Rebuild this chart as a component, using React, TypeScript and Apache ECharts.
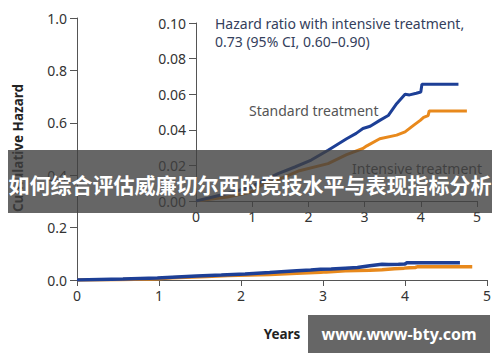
import React, { useEffect, useRef } from "react";
import * as echarts from "echarts";

// Standard treatment (years, cumulative hazard)
const standardYears = [0, 0.56, 0.98, 1.16, 1.46, 1.76, 2.05, 2.35, 2.68, 2.85, 2.97, 3.1, 3.27, 3.42, 3.57, 3.72, 3.8, 3.92, 4.0, 4.02, 4.67];
const standardHazard = [0, 0.0042, 0.0079, 0.0107, 0.0154, 0.0191, 0.023, 0.0285, 0.035, 0.038, 0.0407, 0.042, 0.0453, 0.048, 0.0547, 0.06, 0.0596, 0.0605, 0.0612, 0.0656, 0.0656];

// Intensive treatment
const intensiveYears = [0, 0.56, 0.98, 1.16, 1.58, 1.84, 2.35, 2.68, 2.97, 3.04, 3.27, 3.57, 3.72, 3.87, 3.99, 4.05, 4.13, 4.15, 4.82];
const intensiveHazard = [0, 0.0022, 0.005, 0.0088, 0.0135, 0.017, 0.021, 0.026, 0.0295, 0.031, 0.035, 0.037, 0.0388, 0.0425, 0.0453, 0.047, 0.048, 0.0506, 0.0506];

const xTicks = [0, 1, 2, 3, 4, 5];
const mainYTicks = [0, 0.2, 0.4, 0.6, 0.8, 1.0];
const insetYTicks = [0, 0.02, 0.04, 0.06, 0.08, 0.1];

const annotationLine1 = "Hazard ratio with intensive treatment,";
const annotationLine2 = "0.73 (95% CI, 0.60\u20130.90)";
const standardLabel = "Standard treatment";
const intensiveLabel = "Intensive treatment";
const yAxisTitle = "Cumulative Hazard";
const xAxisTitle = "Years";
const bannerText = "如何综合评估威廉切尔西的竞技水平与表现指标分析";
const watermarkText = "www.www-bty.com";

const BLUE = "#1d3f96";
const ORANGE = "#e8891c";
const FONT = "Noto Sans";

function pairs(xs: number[], ys: number[]) {
  return xs.map((x, i) => [x, ys[i]]);
}

function axisX(gridIndex: number, withName: boolean) {
  return {
    type: "value",
    gridIndex,
    min: xTicks[0],
    max: xTicks[xTicks.length - 1],
    interval: 1,
    axisLine: { show: true, lineStyle: { color: "#555", width: 1 } },
    axisTick: { show: true, length: 6, lineStyle: { color: "#555" } },
    axisLabel: { fontSize: 14, color: "#333", fontFamily: FONT, margin: 8 },
    splitLine: { show: false },
    ...(withName
      ? {
          name: xAxisTitle,
          nameLocation: "middle",
          nameGap: 47,
          nameTextStyle: { fontSize: 13.5, fontWeight: "bold", color: "#222", fontFamily: FONT },
        }
      : {}),
  };
}

function axisY(gridIndex: number, ticks: number[], step: number, digits: number) {
  return {
    type: "value",
    gridIndex,
    min: ticks[0],
    max: ticks[ticks.length - 1],
    interval: step,
    axisLine: { show: true, lineStyle: { color: "#555", width: 1 } },
    axisTick: { show: true, length: 7, lineStyle: { color: "#555" } },
    axisLabel: {
      fontSize: 14,
      color: "#333",
      fontFamily: FONT,
      margin: 10,
      formatter: (v: number) => v.toFixed(digits),
    },
    splitLine: { show: false },
  };
}

export default function App() {
  const ref = useRef<HTMLDivElement>(null);

  useEffect(() => {
    if (!ref.current) return;
    const chart = echarts.init(ref.current, undefined, { renderer: "svg" });
    const std = pairs(standardYears, standardHazard);
    const int = pairs(intensiveYears, intensiveHazard);

    chart.setOption({
      animation: false,
      backgroundColor: "#fff",
      grid: [
        { left: 77, top: 18, width: 410, height: 262 },
        { left: 196, top: 23, width: 281, height: 178 },
      ],
      xAxis: [axisX(0, true), axisX(1, false)],
      yAxis: [axisY(0, mainYTicks, 0.2, 1), axisY(1, insetYTicks, 0.02, 2)],
      series: [
        {
          type: "line",
          xAxisIndex: 0,
          yAxisIndex: 0,
          data: int,
          showSymbol: false,
          lineStyle: { color: ORANGE, width: 3.5 },
          z: 2,
        },
        {
          type: "line",
          xAxisIndex: 0,
          yAxisIndex: 0,
          data: std,
          showSymbol: false,
          lineStyle: { color: BLUE, width: 3.5 },
          z: 3,
        },
        {
          type: "line",
          xAxisIndex: 1,
          yAxisIndex: 1,
          data: int,
          showSymbol: false,
          lineStyle: { color: ORANGE, width: 3 },
          z: 2,
        },
        {
          type: "line",
          xAxisIndex: 1,
          yAxisIndex: 1,
          data: std,
          showSymbol: false,
          lineStyle: { color: BLUE, width: 3 },
          z: 3,
        },
      ],
      graphic: [
        {
          type: "text",
          x: 17.5,
          y: 148,
          rotation: Math.PI / 2,
          style: {
            text: yAxisTitle,
            fill: "#222",
            fontSize: 13.5,
            fontWeight: "bold",
            fontFamily: FONT,
            align: "center",
            verticalAlign: "middle",
          },
        },
        {
          type: "text",
          x: 215,
          y: 23,
          style: { text: annotationLine1, fill: "#34405c", fontSize: 14, fontFamily: FONT, align: "left", verticalAlign: "middle" },
        },
        {
          type: "text",
          x: 215,
          y: 41,
          style: { text: annotationLine2, fill: "#34405c", fontSize: 14, fontFamily: FONT, align: "left", verticalAlign: "middle" },
        },
        {
          type: "text",
          x: 249,
          y: 110,
          style: { text: standardLabel, fill: "#555", fontSize: 14, fontFamily: FONT, align: "left", verticalAlign: "middle" },
        },
        {
          type: "text",
          x: 352,
          y: 168,
          style: { text: intensiveLabel, fill: "#444", fontSize: 14, fontFamily: FONT, align: "left", verticalAlign: "middle" },
        },
        {
          type: "rect",
          shape: { x: 8, y: 150, width: 484, height: 63 },
          style: { fill: "rgba(64,64,64,0.8)" },
          z: 100,
        },
        {
          type: "text",
          x: 250,
          y: 184,
          z: 101,
          style: {
            text: bannerText,
            fill: "#fff",
            fontSize: 21,
            fontWeight: "bold",
            fontFamily: "Noto Sans CJK SC",
            align: "center",
            verticalAlign: "middle",
          },
        },
        {
          type: "rect",
          shape: { x: 308, y: 315, width: 182, height: 38 },
          style: { fill: "#666" },
          z: 100,
        },
        {
          type: "text",
          x: 399,
          y: 334,
          z: 101,
          style: {
            text: watermarkText,
            fill: "#fff",
            fontSize: 16,
            fontWeight: "bold",
            fontFamily: FONT,
            align: "center",
            verticalAlign: "middle",
          },
        },
      ],
    });
    return () => chart.dispose();
  }, []);

  return (
    <div
      ref={ref}
      style={{ position: "fixed", left: 0, top: 0, width: 500, height: 362, background: "#fff" }}
    />
  );
}
